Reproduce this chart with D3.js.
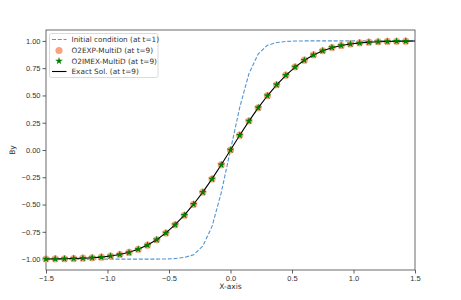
<!DOCTYPE html>
<html>
<head>
<meta charset="utf-8">
<script src="https://cdn.jsdelivr.net/npm/d3@7"></script>
<style>
  body { margin: 0; background: #fff; }
  svg { display: block; font-family: "DejaVu Sans", sans-serif; }
</style>
</head>
<body>
<div id="chart"></div>
<script>
// grid points of the numerical scheme (cell positions)
const xPoints = [-1.5, -1.425, -1.35, -1.275, -1.2, -1.125, -1.05, -0.975, -0.9, -0.825,
  -0.75, -0.675, -0.6, -0.525, -0.45, -0.375, -0.3, -0.225, -0.15, -0.075,
  0, 0.075, 0.15, 0.225, 0.3, 0.375, 0.45, 0.525, 0.6, 0.675,
  0.75, 0.825, 0.9, 0.975, 1.05, 1.125, 1.2, 1.275, 1.35, 1.425];
// same grid plus the right boundary, used by the lines
const xLine = xPoints.concat([1.5]);

const initialBy = [-1, -1, -1, -1, -1, -1, -1, -1, -1, -1,
  -1, -1, -1, -0.999, -0.995, -0.985, -0.96, -0.88, -0.70, -0.39,
  0, 0.39, 0.70, 0.88, 0.96, 0.985, 0.995, 0.999, 1, 1,
  1, 1, 1, 1, 1, 1, 1, 1, 1, 1, 1];
const o2expBy = [-0.999, -0.998, -0.997, -0.995, -0.992, -0.988, -0.982, -0.972, -0.958, -0.939,
  -0.910, -0.872, -0.823, -0.761, -0.686, -0.598, -0.498, -0.387, -0.266, -0.136,
  0, 0.136, 0.266, 0.387, 0.498, 0.598, 0.686, 0.761, 0.823, 0.872,
  0.910, 0.939, 0.958, 0.972, 0.982, 0.988, 0.992, 0.995, 0.997, 0.998];
const o2imexBy = [-0.999, -0.998, -0.997, -0.995, -0.992, -0.988, -0.982, -0.972, -0.958, -0.939,
  -0.910, -0.872, -0.823, -0.761, -0.686, -0.598, -0.498, -0.387, -0.266, -0.136,
  0, 0.136, 0.266, 0.387, 0.498, 0.598, 0.686, 0.761, 0.823, 0.872,
  0.910, 0.939, 0.958, 0.972, 0.982, 0.988, 0.992, 0.995, 0.997, 0.998];
const exactBy = [-0.999, -0.998, -0.997, -0.995, -0.992, -0.988, -0.982, -0.972, -0.958, -0.938,
  -0.909, -0.871, -0.822, -0.760, -0.685, -0.597, -0.497, -0.386, -0.265, -0.135,
  0, 0.135, 0.265, 0.386, 0.497, 0.597, 0.685, 0.760, 0.822, 0.871,
  0.909, 0.938, 0.958, 0.972, 0.982, 0.988, 0.992, 0.995, 0.997, 0.998, 0.999];

const xTicks = [-1.5, -1.0, -0.5, 0.0, 0.5, 1.0, 1.5];
const yTicks = [-1.0, -0.75, -0.5, -0.25, 0.0, 0.25, 0.5, 0.75, 1.0];
const legendLabels = ["Initial condition (at t=1)", "O2EXP-MultiD (at t=9)", "O2IMEX-MultiD (at t=9)", "Exact Sol. (at t=9)"];

const W = 461, H = 300;
const margin = { top: 30, right: 46, bottom: 30, left: 46 };
const width = W - margin.left - margin.right;
const height = H - margin.top - margin.bottom;

const svg = d3.select('#chart').append('svg').attr('width', W).attr('height', H);
const g = svg.append('g').attr('transform', 'translate(' + margin.left + ',' + margin.top + ')');

const x = d3.scaleLinear().domain([-1.5, 1.5]).range([0, width]);
const y = d3.scaleLinear().domain([-1.1, 1.1]).range([height, 0]);

const fmtMinus = s => s.replace('-', '\u2212');

// axes
const xAxis = d3.axisBottom(x).tickValues(xTicks).tickSize(3.5).tickPadding(2)
  .tickFormat(d => fmtMinus(d3.format('.1f')(d)));
const yAxis = d3.axisLeft(y).tickValues(yTicks).tickSize(3.5).tickPadding(2)
  .tickFormat(d => fmtMinus(d3.format('.2f')(d)));

const gx = g.append('g').attr('transform', 'translate(0,' + height + ')').call(xAxis);
const gy = g.append('g').call(yAxis);
[gx, gy].forEach(a => {
  a.select('.domain').remove();
  a.selectAll('.tick line').attr('stroke', '#333').attr('stroke-width', 0.8);
  a.selectAll('.tick text').attr('fill', '#333').style('font-size', '7.5px');
});

// frame
g.append('rect').attr('width', width).attr('height', height)
  .attr('fill', 'none').attr('stroke', '#444').attr('stroke-width', 0.8);

// axis labels
svg.append('text').attr('x', margin.left + width / 2).attr('y', 289)
  .attr('text-anchor', 'middle').style('font-size', '7.5px').attr('fill', '#333').text('X-axis');
svg.append('text').attr('transform', 'translate(15,' + (margin.top + height / 2) + ') rotate(-90)')
  .attr('text-anchor', 'middle').style('font-size', '7.5px').attr('fill', '#333').text('By');

const line = d3.line().x(d => x(d[0])).y(d => y(d[1]));
const clip = g.append('g');

// initial condition
clip.append('path').datum(xLine.map((v, i) => [v, initialBy[i]]))
  .attr('d', line).attr('fill', 'none').attr('stroke', '#5596cf')
  .attr('stroke-width', 1.1).attr('stroke-dasharray', '4,1.8');

// O2EXP circles
clip.selectAll('.exp').data(xPoints.map((v, i) => [v, o2expBy[i]])).enter()
  .append('circle').attr('class', 'exp')
  .attr('cx', d => x(d[0])).attr('cy', d => y(d[1])).attr('r', 3.6)
  .attr('fill', '#f9a47e');

// exact solution
clip.append('path').datum(xLine.map((v, i) => [v, exactBy[i]]))
  .attr('d', line).attr('fill', 'none').attr('stroke', '#000').attr('stroke-width', 1.1);

// O2IMEX stars
const star = d3.symbol().type(d3.symbolStar).size(18);
clip.selectAll('.imex').data(xPoints.map((v, i) => [v, o2imexBy[i]])).enter()
  .append('path').attr('class', 'imex')
  .attr('transform', d => 'translate(' + x(d[0]) + ',' + y(d[1]) + ')')
  .attr('d', star).attr('fill', '#008000');

// legend
const lg = svg.append('g').attr('transform', 'translate(49.5,33.5)');
lg.append('rect').attr('width', 108.5).attr('height', 44).attr('rx', 2)
  .attr('fill', '#fff').attr('fill-opacity', 0.8).attr('stroke', '#d0d0d0').attr('stroke-width', 0.8);
const rowY = [6, 17, 27.5, 38];
legendLabels.forEach((lab, i) => {
  lg.append('text').attr('x', 22).attr('y', rowY[i] + 2.7).style('font-size', '7.3px')
    .attr('fill', '#333').text(lab);
});
lg.append('line').attr('x1', 2.5).attr('x2', 17).attr('y1', rowY[0]).attr('y2', rowY[0])
  .attr('stroke', '#5596cf').attr('stroke-width', 1.1).attr('stroke-dasharray', '4,1.8');
lg.append('circle').attr('cx', 9.5).attr('cy', rowY[1]).attr('r', 3.6).attr('fill', '#f9a47e');
lg.append('path').attr('transform', 'translate(9.5,' + rowY[2] + ')').attr('d', star).attr('fill', '#008000');
lg.append('line').attr('x1', 2.5).attr('x2', 17).attr('y1', rowY[3]).attr('y2', rowY[3])
  .attr('stroke', '#000').attr('stroke-width', 1.1);
</script>
</body>
</html>
